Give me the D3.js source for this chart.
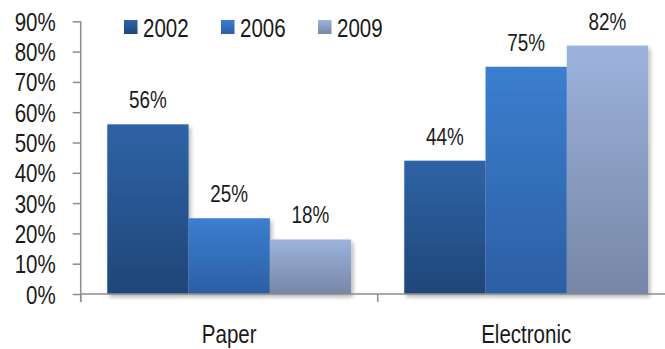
<!DOCTYPE html>
<html>
<head>
<meta charset="utf-8">
<script src="https://cdn.jsdelivr.net/npm/d3@7"></script>
<style>
	body { margin: 0; background: #fff; }
	text { font-family: "Liberation Sans", Arial, sans-serif; fill: #1a1a1a; }
</style>
</head>
<body>
<svg id="chart" width="665" height="349"></svg>
<script>
const categories = ["Paper", "Electronic"];
const years = ["2002", "2006", "2009"];
const values2002 = [56, 44];
const values2006 = [25, 75];
const values2009 = [18, 82];
const yTicks = [0, 10, 20, 30, 40, 50, 60, 70, 80, 90];

// top / bottom colours of each bar gradient
const gradTop = ["#2f63a6", "#3b7ecf", "#9db3dc"];
const gradBottom = ["#1f4678", "#2c5fa4", "#7686a6"];

const series = [values2002, values2006, values2009];

const svg = d3.select("#chart");

const left = 80.7, right = 674.7, baseY = 294, topY = 21.3;

const y = d3.scaleLinear().domain([0, 90]).range([baseY, topY]);

const x0 = d3.scaleBand()
	.domain(categories)
	.range([left, right])
	.padding(0);

const x1 = d3.scaleBand()
	.domain(years)
	.range([0, x0.bandwidth()])
	.paddingInner(0)
	.paddingOuter(0.327);

// squeeze Liberation Sans into a narrow face
function narrow(sel) {
	sel.each(function() {
		const w = this.getComputedTextLength();
		d3.select(this).attr("textLength", w * 0.82).attr("lengthAdjust", "spacingAndGlyphs");
	});
}

// gradients + shadow
const defs = svg.append("defs");
years.forEach(function(yr, i) {
	const g = defs.append("linearGradient")
		.attr("id", "grad" + yr)
		.attr("x1", 0).attr("y1", 0).attr("x2", 0).attr("y2", 1);
	g.append("stop").attr("offset", "0%").attr("stop-color", gradTop[i]);
	g.append("stop").attr("offset", "100%").attr("stop-color", gradBottom[i]);
});

defs.append("filter")
	.attr("id", "shadow")
	.attr("x", "-20%").attr("y", "-20%").attr("width", "140%").attr("height", "140%")
	.append("feDropShadow")
	.attr("dx", 2).attr("dy", 3)
	.attr("stdDeviation", 2)
	.attr("flood-color", "#000")
	.attr("flood-opacity", 0.3);

// Bars
const rows = [];
categories.forEach(function(cat, ci) {
	years.forEach(function(yr, si) {
		rows.push({cat: cat, year: yr, value: series[si][ci]});
	});
});

svg.append("g")
	.attr("filter", "url(#shadow)")
	.selectAll("rect.bar")
	.data(rows)
	.join("rect")
	.classed("bar", true)
	.attr("x", function(d) { return x0(d.cat) + x1(d.year); })
	.attr("y", function(d) { return y(d.value); })
	.attr("width", x1.bandwidth())
	.attr("height", function(d) { return baseY - y(d.value); })
	.attr("fill", function(d) { return "url(#grad" + d.year + ")"; });

// Value labels
svg.append("g")
	.selectAll("text.value")
	.data(rows)
	.join("text")
	.classed("value", true)
	.attr("x", function(d) { return x0(d.cat) + x1(d.year) + x1.bandwidth() / 2; })
	.attr("y", function(d) { return y(d.value) - 16; })
	.attr("text-anchor", "middle")
	.style("font-size", "23px")
	.text(function(d) { return d.value + "%"; })
	.call(narrow);

// Y axis
const yAxis = svg.append("g")
	.attr("transform", "translate(" + left + ",0)")
	.call(d3.axisLeft(y).tickValues(yTicks).tickSize(8).tickPadding(17)
		.tickFormat(function(d) { return d + "%"; }));
yAxis.select(".domain").attr("stroke", "#8c8c8c").attr("stroke-width", 1.5)
	.attr("d", "M0," + (baseY + 8) + "V" + topY);
yAxis.selectAll(".tick line").attr("stroke", "#8c8c8c").attr("stroke-width", 1.5);
yAxis.selectAll(".tick text")
	.style("font-size", "25px")
	.attr("dy", "0.36em")
	.attr("fill", "#1a1a1a")
	.call(narrow);

// X axis
const xAxis = svg.append("g")
	.attr("transform", "translate(0," + baseY + ")")
	.call(d3.axisBottom(x0).tickSize(0).tickPadding(31));
xAxis.select(".domain").attr("stroke", "#8c8c8c").attr("stroke-width", 1.5)
	.attr("d", "M" + left + ",0H" + right);
xAxis.selectAll(".tick text")
	.style("font-size", "25px")
	.attr("fill", "#1a1a1a")
	.call(narrow);

const boundaries = categories.map(function(c) { return x0(c); }).concat([right]);
xAxis.selectAll("line.sep")
	.data(boundaries)
	.join("line")
	.classed("sep", true)
	.attr("x1", function(d) { return d; })
	.attr("x2", function(d) { return d; })
	.attr("y1", 0)
	.attr("y2", 8)
	.attr("stroke", "#8c8c8c")
	.attr("stroke-width", 1.5);

// Legend
const legend = svg.append("g")
	.selectAll("g.item")
	.data(years)
	.join("g")
	.classed("item", true)
	.attr("transform", function(d, i) { return "translate(" + (124 + i * 97) + ",20)"; });

legend.append("rect")
	.attr("width", 13.5)
	.attr("height", 14)
	.attr("fill", function(d) { return "url(#grad" + d + ")"; });

legend.append("text")
	.attr("x", 19)
	.attr("y", 16.7)
	.style("font-size", "25px")
	.text(function(d) { return d; })
	.call(narrow);
</script>
</body>
</html>
